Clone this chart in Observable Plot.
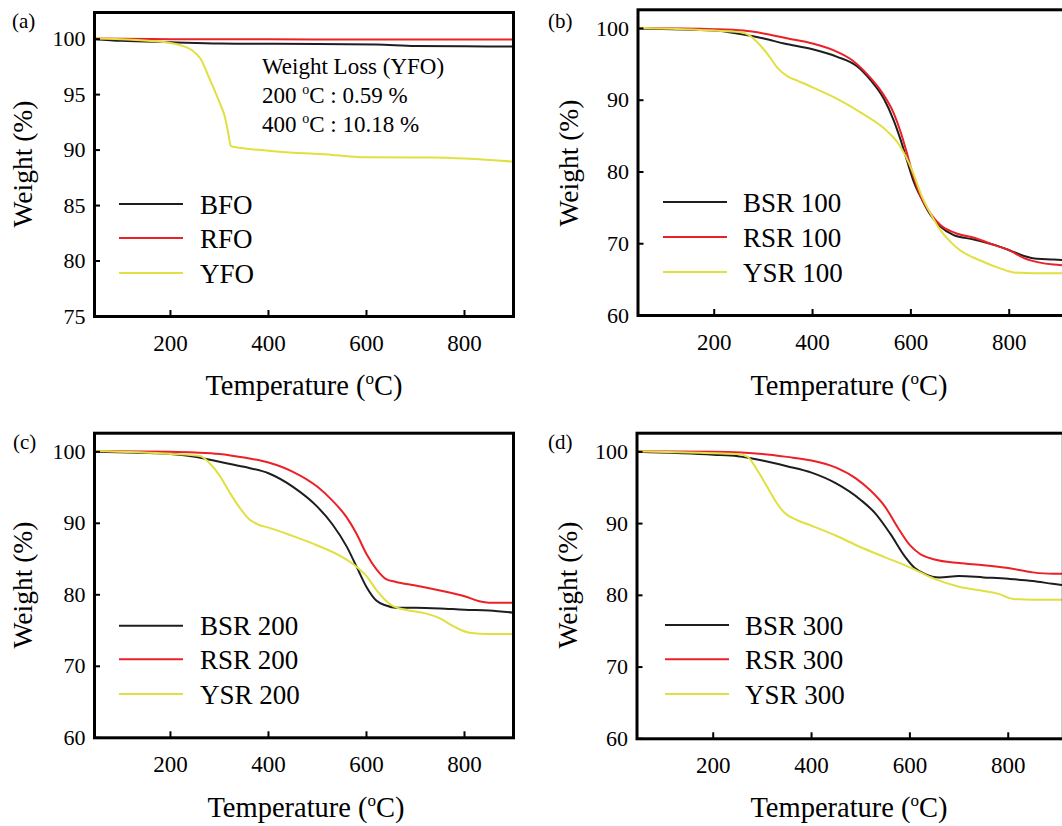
<!DOCTYPE html>
<html><head><meta charset="utf-8">
<script src="https://cdn.jsdelivr.net/npm/d3@7"></script>
<script src="https://cdn.jsdelivr.net/npm/@observablehq/plot@0.6"></script>
<style>
html,body{margin:0;padding:0;background:#fff;overflow:hidden}
#wrap{position:relative;width:1062px;height:826px;overflow:hidden;background:#fff}
.panel{position:absolute}
.panel svg{max-width:none!important}
.panel svg text{font-family:'Liberation Serif','Times New Roman',serif}
</style></head><body><div id="wrap"></div>
<script>
// ---------- tick labels ----------
const xTicks = [200, 400, 600, 800];
const yTicksA = [75, 80, 85, 90, 95, 100];
const yTicksBCD = [60, 70, 80, 90, 100];

// ---------- panel (a) ----------
const BFO_T = [45, 100, 200, 300, 400, 500, 620, 700, 800, 900];
const BFO_W = [100.0, 99.85, 99.72, 99.6, 99.58, 99.57, 99.52, 99.38, 99.35, 99.34];
const RFO_T = [45, 200, 400, 600, 800, 900];
const RFO_W = [100.05, 100.0, 99.98, 99.97, 99.97, 99.97];
const YFO_T = [45, 139, 200, 220, 244, 261, 281, 301, 311, 318, 323, 328, 400, 531, 600, 735, 900];
const YFO_W = [100.05, 99.9, 99.66, 99.45, 99.0, 98.25, 96.3, 94.2, 93.0, 91.5, 90.4, 90.3, 89.95, 89.56, 89.35, 89.32, 88.96];

// ---------- panel (b) ----------
const BSR100_T = [45, 200, 247, 301, 342, 400, 450, 491, 518, 545, 565, 579, 593, 606, 623, 640, 660, 687, 728, 776, 800, 830, 857, 890, 912];
const BSR100_W = [100, 99.7, 99.3, 98.6, 97.9, 97.1, 96.05, 94.7, 92.8, 90.2, 87.2, 84.5, 81.4, 78.6, 76.1, 74.0, 72.4, 71.2, 70.6, 69.7, 69.1, 68.3, 67.9, 67.8, 67.7];
const RSR100_T = [45, 200, 260, 300, 350, 400, 450, 480, 510, 540, 565, 580, 592, 605, 620, 640, 660, 690, 730, 770, 800, 830, 860, 890, 912];
const RSR100_W = [100.05, 99.9, 99.7, 99.3, 98.6, 97.9, 96.75, 95.6, 93.7, 91.2, 88.2, 85.4, 82.6, 79.4, 76.6, 74.2, 72.6, 71.5, 70.8, 69.8, 69.1, 68.0, 67.4, 67.1, 67.0];
const YSR100_T = [45, 200, 250, 270, 290, 310, 330, 350, 370, 400, 450, 500, 550, 575, 590, 605, 620, 640, 660, 680, 700, 740, 780, 810, 850, 912];
const YSR100_W = [100.1, 99.7, 99.5, 99.1, 97.9, 96.3, 94.4, 93.3, 92.7, 91.8, 90.2, 88.2, 85.8, 83.9, 82.1, 79.8, 77.0, 74.2, 71.9, 70.3, 69.1, 67.7, 66.6, 66.0, 65.9, 65.9];

// ---------- panel (c) ----------
const BSR200_T = [45, 200, 250, 300, 350, 400, 450, 500, 530, 560, 580, 600, 620, 640, 660, 700, 750, 800, 850, 900];
const BSR200_W = [100, 99.7, 99.3, 98.6, 97.9, 97.0, 95.1, 92.3, 89.9, 86.7, 83.9, 81.1, 79.2, 78.5, 78.2, 78.2, 78.1, 77.9, 77.8, 77.5];
const RSR200_T = [45, 200, 250, 300, 350, 400, 450, 500, 530, 560, 580, 600, 620, 640, 660, 700, 750, 800, 830, 850, 900];
const RSR200_W = [100.1, 100.0, 99.9, 99.7, 99.2, 98.5, 97.2, 95.1, 93.2, 90.8, 88.5, 85.7, 83.6, 82.2, 81.8, 81.3, 80.6, 79.8, 79.1, 78.9, 78.9];
const YSR200_T = [45, 200, 260, 280, 300, 320, 340, 360, 380, 400, 450, 500, 550, 580, 600, 620, 650, 680, 720, 750, 780, 810, 850, 900];
const YSR200_W = [100.1, 99.7, 99.4, 98.4, 96.7, 94.4, 92.3, 90.6, 89.8, 89.4, 88.2, 86.9, 85.3, 83.9, 82.6, 80.7, 78.6, 77.9, 77.4, 76.7, 75.5, 74.7, 74.5, 74.5];

// ---------- panel (d) ----------
const BSR300_T = [45, 200, 250, 300, 350, 400, 450, 500, 530, 560, 590, 610, 630, 660, 700, 750, 800, 850, 890, 912];
const BSR300_W = [100, 99.6, 99.4, 98.8, 98.0, 97.1, 95.6, 93.3, 91.4, 88.6, 85.4, 83.8, 83.0, 82.5, 82.7, 82.5, 82.3, 82.0, 81.6, 81.4];
const RSR300_T = [45, 200, 300, 350, 400, 450, 490, 520, 550, 575, 600, 620, 650, 700, 750, 800, 850, 890, 912];
const RSR300_W = [100.1, 100.0, 99.7, 99.3, 98.8, 97.8, 96.3, 94.6, 92.3, 89.5, 87.0, 85.8, 85.0, 84.5, 84.2, 83.8, 83.2, 83.0, 83.0];
const YSR300_T = [45, 200, 250, 270, 290, 310, 330, 345, 370, 400, 450, 500, 550, 600, 650, 700, 750, 780, 810, 850, 912];
const YSR300_W = [100.1, 99.8, 99.7, 99.3, 97.4, 95.1, 92.8, 91.5, 90.5, 89.7, 88.3, 86.7, 85.3, 83.9, 82.3, 81.2, 80.6, 80.2, 79.5, 79.4, 79.4];

const seriesColors = ["#1e1e1e", "#ec2027", "#e0e040"];
const FONT = "'Liberation Serif', 'Times New Roman', serif";

function buildPanel(cfg) {
  const rows = cfg.series.flatMap(s => s.t.map((t, i) => ({name: s.name, t, w: s.w[i]})));
  const names = cfg.series.map(s => s.name);
  const svg = Plot.plot({
    width: cfg.width, height: cfg.height,
    marginLeft: cfg.ml, marginRight: cfg.mr, marginTop: cfg.mt, marginBottom: cfg.mb,
    style: `font-family: ${FONT}; font-size: 23px; color: #000; background: transparent; overflow: visible;`,
    x: {domain: cfg.xDomain, ticks: xTicks, label: null},
    y: {domain: cfg.yDomain, ticks: cfg.yTicks, label: null},
    color: {domain: names, range: seriesColors},
    marks: [
      Plot.line(rows, {x: "t", y: "w", z: "name", stroke: "name", strokeWidth: 2, curve: "monotone-x"}),
      Plot.axisX({ticks: xTicks, tickSize: -6, tickPadding: 24, strokeWidth: 2, label: null, fontSize: 23, fontFamily: FONT, fontVariant: "normal"}),
      Plot.axisY({ticks: cfg.yTicks, tickSize: -6, tickPadding: 15, strokeWidth: 2, label: null, fontSize: 22, fontFamily: FONT, fontVariant: "normal"}),
      Plot.frame({stroke: "#000", strokeWidth: 3})
    ]
  });
  const g = d3.select(svg).append("g").attr("font-family", FONT).attr("fill", "#000").attr("text-anchor", "start");
  // panel label
  g.append("text").attr("x", cfg.lab[0]).attr("y", cfg.lab[1]).style("font-size", "21px").text(cfg.label);
  // y title
  g.append("text").attr("transform", `translate(${cfg.yt[0]},${cfg.yt[1]}) rotate(-90)`)
    .attr("text-anchor", "middle").attr("dy", "0.32em").style("font-size", "27.5px").style("font-family", FONT).text("Weight (%)");
  // x title
  const xt = g.append("text").attr("x", cfg.xt[0]).attr("y", cfg.xt[1]).attr("text-anchor", "middle").style("font-size", "28.5px");
  xt.append("tspan").text("Temperature (");
  xt.append("tspan").attr("dy", -11).style("font-size", "17px").text("o");
  xt.append("tspan").attr("dy", 11).text("C)");
  // legend
  names.forEach((n, i) => {
    const y = cfg.leg.ys[i];
    g.append("line").attr("x1", cfg.leg.x1).attr("x2", cfg.leg.x2).attr("y1", y).attr("y2", y)
      .attr("stroke", seriesColors[i]).attr("stroke-width", 2);
    g.append("text").attr("x", cfg.leg.tx).attr("y", y + 9.5).style("font-size", "27px").text(n);
  });
  if (cfg.note) {
    cfg.note.forEach((line, i) => {
      const t = g.append("text").attr("x", cfg.noteX).attr("y", cfg.noteY[i]).style("font-size", "23px");
      if (line.length === 1) t.text(line[0]);
      else {
        t.append("tspan").text(line[0]);
        t.append("tspan").attr("dy", -9).style("font-size", "14px").text("o");
        t.append("tspan").attr("dy", 9).text(line[1]);
      }
    });
  }
  const div = document.createElement("div");
  div.className = "panel";
  div.style.left = cfg.left + "px";
  div.style.top = cfg.top + "px";
  div.style.width = cfg.width + "px";
  div.style.height = cfg.height + "px";
  div.appendChild(svg);
  document.getElementById("wrap").appendChild(div);
}

buildPanel({
  left: 0, top: 0, width: 530, height: 400, ml: 94, mr: 17, mt: 12, mb: 84,
  xDomain: [45, 900], yDomain: [75, 102.4], yTicks: yTicksA,
  series: [{name: "BFO", t: BFO_T, w: BFO_W}, {name: "RFO", t: RFO_T, w: RFO_W}, {name: "YFO", t: YFO_T, w: YFO_W}],
  label: "(a)", lab: [12, 28], yt: [23, 164], xt: [304, 395],
  leg: {x1: 119, x2: 183, tx: 200, ys: [204, 238, 273]},
  note: [["Weight Loss (YFO)"], ["200 ", "C : 0.59 %"], ["400 ", "C : 10.18 %"]],
  noteX: 262, noteY: [74, 103, 132]
});
buildPanel({
  left: 530, top: 0, width: 544, height: 400, ml: 107.5, mr: 10.2, mt: 9.3, mb: 85,
  xDomain: [45, 912], yDomain: [60, 102.6], yTicks: yTicksBCD,
  series: [{name: "BSR 100", t: BSR100_T, w: BSR100_W}, {name: "RSR 100", t: RSR100_T, w: RSR100_W}, {name: "YSR 100", t: YSR100_T, w: YSR100_W}],
  label: "(b)", lab: [18, 28], yt: [39, 163], xt: [319, 395],
  leg: {x1: 133, x2: 197, tx: 213, ys: [202, 237, 272]}
});
buildPanel({
  left: 0, top: 420, width: 530, height: 406, ml: 94, mr: 17, mt: 12.7, mb: 88.7,
  xDomain: [45, 900], yDomain: [60, 102.6], yTicks: yTicksBCD,
  series: [{name: "BSR 200", t: BSR200_T, w: BSR200_W}, {name: "RSR 200", t: RSR200_T, w: RSR200_W}, {name: "YSR 200", t: YSR200_T, w: YSR200_W}],
  label: "(c)", lab: [13, 29], yt: [23, 165], xt: [306, 396.7],
  leg: {x1: 119, x2: 183, tx: 200, ys: [205.7, 239.3, 274]}
});
buildPanel({
  left: 530, top: 420, width: 544, height: 406, ml: 106.5, mr: 11.2, mt: 12.7, mb: 87.7,
  xDomain: [45, 912], yDomain: [60, 102.6], yTicks: yTicksBCD,
  series: [{name: "BSR 300", t: BSR300_T, w: BSR300_W}, {name: "RSR 300", t: RSR300_T, w: RSR300_W}, {name: "YSR 300", t: YSR300_T, w: YSR300_W}],
  label: "(d)", lab: [18, 29], yt: [38.5, 165], xt: [319, 396.7],
  leg: {x1: 135, x2: 199, tx: 215, ys: [205, 239.3, 274]}
});
</script></body></html>
